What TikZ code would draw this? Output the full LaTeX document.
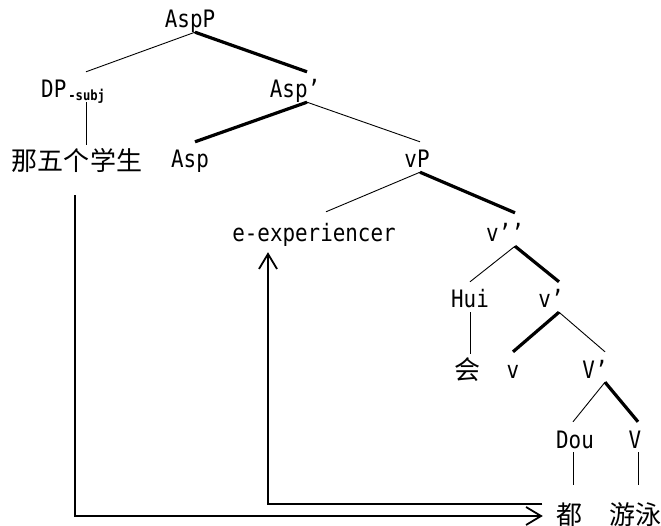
\documentclass[tikz,border=0pt]{standalone}
\usepackage{fontspec}
\newfontfamily\labfont[FakeStretch=0.87]{DejaVu Sans Mono}
\newfontfamily\cjk{Noto Sans CJK SC}
\usetikzlibrary{arrows.meta}
\begin{document}
\begin{tikzpicture}[x=1pt,y=-1pt,cat/.style={anchor=base,inner sep=0pt,text height=26pt,text depth=4pt,font=\labfont\fontsize{24}{24}\selectfont},word/.style={anchor=base,inner sep=0pt,text height=26pt,text depth=4pt,font=\cjk\fontsize{26}{26}\selectfont},branch/.style={line width=0.9pt},head/.style={line width=3.2pt},move/.style={line width=1.8pt,-{Straight Barb[length=15pt,width=18pt]}}]
\useasboundingbox (0,0) rectangle (661,526);
\node[cat] (AspP) at (190,28) {AspP};
\node[cat,anchor=base west] (DP) at (41,98) {DP\hspace{2pt}\raisebox{-3pt}{\fontsize{14}{14}\selectfont\bfseries -subj}};
\node[cat] (AspBar) at (295,98) {Asp’};
\node[word] (NaWu) at (77,171) {那五个学生};
\node[cat] (Asp) at (190,168) {Asp};
\node[cat] (vP) at (417,168) {vP};
\node[cat] (Exp) at (314,242) {e-experiencer};
\node[cat] (vBarBar) at (505,242) {v’’};
\node[cat] (Hui) at (470,308) {Hui};
\node[cat] (vBar) at (551,308) {v’};
\node[word] (HuiZh) at (467,380) {会};
\node[cat] (v) at (513,378) {v};
\node[cat] (VBar) at (595,378) {V’};
\node[cat] (Dou) at (575,448) {Dou};
\node[cat] (V) at (635,448) {V};
\node[word] (DouZh) at (569.5,524) {都};
\node[word] (YouYong) at (635,524) {游泳};
\draw[branch] ([xshift=5pt]AspP.south) -- ([xshift=45pt]DP.north west);
\draw[head] ([xshift=5pt]AspP.south) -- ([xshift=12pt]AspBar.north);
\draw[branch] ([xshift=45pt]DP.south west) -- ([xshift=45pt]DP.south west |- NaWu.north);
\draw[head] ([xshift=12pt]AspBar.south) -- ([xshift=5pt]Asp.north);
\draw[branch] ([xshift=12pt]AspBar.south) -- ([xshift=3pt]vP.north);
\draw[branch] ([xshift=3pt]vP.south) -- ([xshift=12pt,yshift=4pt]Exp.north);
\draw[head] ([xshift=3pt]vP.south) -- ([xshift=10pt,yshift=3pt]vBarBar.north);
\draw[branch] ([xshift=10pt]vBarBar.south) -- (Hui.north);
\draw[head] ([xshift=10pt]vBarBar.south) -- ([xshift=8pt]vBar.north);
\draw[branch] (Hui.south) -- (Hui.south |- HuiZh.north);
\draw[head] ([xshift=8pt]vBar.south) -- (v.north);
\draw[branch] ([xshift=8pt]vBar.south) -- ([xshift=10pt]VBar.north);
\draw[branch] ([xshift=10pt]VBar.south) -- ([xshift=-2pt]Dou.north);
\draw[head] ([xshift=10pt]VBar.south) -- ([xshift=3pt]V.north);
\draw[branch,shorten >=13pt] ([xshift=-2pt]Dou.south) -- ([xshift=-2pt]Dou.south |- DouZh.north);
\draw[branch,shorten >=13pt] ([xshift=3pt]V.south) -- ([xshift=3pt]V.south |- YouYong.north);
\draw[move,shorten <=20pt] ([xshift=-2pt]NaWu.south) |- ([xshift=-13.5pt,yshift=8pt]DouZh.base west);
\draw[move,shorten >=6pt] ([xshift=-14pt,yshift=20pt]DouZh.base west) -| ([xshift=-46pt]Exp.south);
\end{tikzpicture}
\end{document}
